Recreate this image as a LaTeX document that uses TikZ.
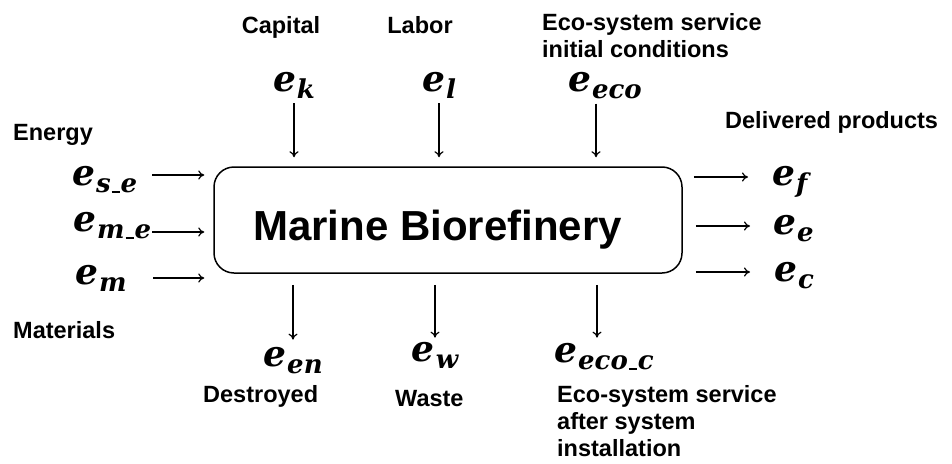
\documentclass[tikz,border=0pt]{standalone}
\usepackage{fontspec}
\usepackage{tikz}
\usetikzlibrary{arrows.meta,positioning}
\newfontfamily\labfont{Liberation Sans}
\newfontfamily\varfont{DejaVu Serif}
\newcommand{\varsize}{\fontsize{36}{44}\selectfont}
\newcommand{\labsize}{\fontsize{23.5}{27}\selectfont}
% e with a lowered subscript, bold italic
\newcommand{\us}{\kern1pt\rule[-1pt]{8pt}{2pt}\kern1pt}
\newcommand{\ev}[1]{e\kern1pt\raisebox{-7pt}{\fontsize{26}{26}\selectfont #1}}

\begin{document}
\begin{tikzpicture}[x=1pt,y=-1pt,
    flow/.style={-{To[length=6pt,width=9pt]}, line width=1.2pt},
    procbox/.style={draw, line width=1.5pt, rounded corners=20pt,
      minimum width=468pt, minimum height=106pt, inner sep=0pt},
    title/.style={font=\labfont\bfseries\fontsize{42}{50}\selectfont, inner sep=0pt},
    lab/.style={font=\labfont\bfseries\labsize, inner sep=0pt, align=left},
    var/.style={font=\varfont\bfseries\itshape\varsize, inner sep=0pt}]
  %\draw[help lines] (0,0) grid[step=50] (952,463);
  \useasboundingbox (0,0) rectangle (952,463);

  \node[procbox] (box) at (448,220) {};
  \node[title, anchor=base west] (name) at (253,240) {Marine Biorefinery};

  % inputs from above
  \node[lab, anchor=base] (tCap) at (281,33) {Capital};
  \node[lab, anchor=base] (tLab) at (420,33) {Labor};
  \node[lab, anchor=base west] (tEco) at (542,57) {Eco-system service\\initial conditions};
  \node[var, anchor=base] (ek) at (294,91) {\ev{k}};
  \node[var, anchor=base] (el) at (439,91) {\ev{l}};
  \node[var, anchor=base] (eeco) at (605,91) {\ev{eco}};
  \draw[flow, shorten <=5pt, shorten >=9pt] (ek.south) -- (ek.south |- box.north);
  \draw[flow, shorten <=5pt, shorten >=9pt] (el.south) -- (el.south |- box.north);
  \draw[flow, shorten <=5pt, shorten >=9pt] ([xshift=-9pt]eeco.south) -- ([xshift=-9pt]eeco.south |- box.north);

  % inputs from the left
  \node[lab, anchor=base west] (tEnergy) at (13,140) {Energy};
  \node[lab, anchor=base west] (tMat) at (13,338) {Materials};
  \node[var, anchor=base west] (ese) at (72,185) {\ev{s\us e}};
  \node[var, anchor=base west] (eme) at (73,231) {\ev{m\us e}};
  \node[var, anchor=base west] (em) at (75,284) {\ev{m}};
  \coordinate (in1) at (152,175);
  \coordinate (in2) at (152,232);
  \coordinate (in3) at (153,278);
  \foreach \c in {in1,in2,in3}
    \draw[flow, shorten >=9pt] (\c) -- (\c -| box.west);

  % delivered products
  \node[lab, anchor=base west] (tDel) at (725,128) {Delivered products};
  \node[var, anchor=base west] (ef) at (772,185) {\ev{f}};
  \node[var, anchor=base west] (ee) at (773,234) {\ev{e}};
  \node[var, anchor=base west] (ec) at (774,281) {\ev{c}};
  \coordinate (out1) at (748,177);
  \coordinate (out2) at (750,226);
  \coordinate (out3) at (750,272);
  \draw[flow, shorten <=11pt] (out1 -| box.east) -- (out1);
  \draw[flow, shorten <=13pt] (out2 -| box.east) -- (out2);
  \draw[flow, shorten <=13pt] (out3 -| box.east) -- (out3);

  % outputs below
  \node[var, anchor=base] (een) at (293,366) {\ev{en}};
  \node[var, anchor=base] (ew) at (435,361) {\ev{w}};
  \node[var, anchor=base] (eecoc) at (604,362) {\ev{eco\us c}};
  \node[lab, anchor=base west] (tDes) at (203,402) {Destroyed};
  \node[lab, anchor=base west] (tWaste) at (395,406) {Waste};
  \node[lab, anchor=base west] (tEcoc) at (557,456) {Eco-system service\\after system\\installation};
  \draw[flow, shorten <=11pt, shorten >=7pt] (box.south -| een.north) -- (een.north);
  \draw[flow, shorten <=11pt, shorten >=4pt] (box.south -| ew.north) -- (ew.north);
  \draw[flow, shorten <=11pt, shorten >=5pt] ([xshift=-7pt]eecoc.north |- box.south) -- ([xshift=-7pt]eecoc.north);
\end{tikzpicture}
\end{document}
